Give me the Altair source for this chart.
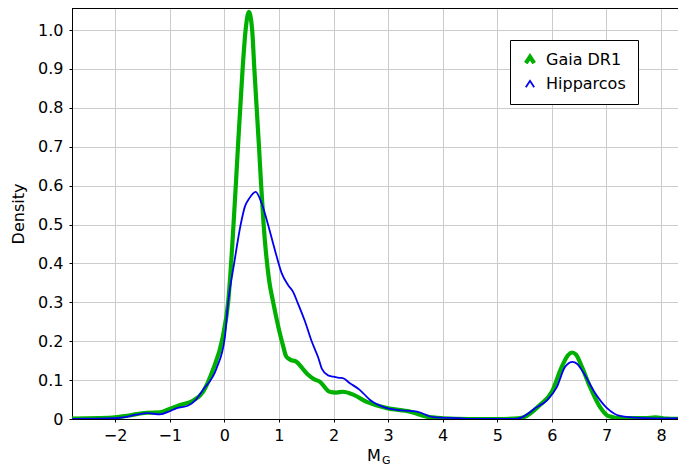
import altair as alt
import pandas as pd

series_names = ["Gaia DR1", "Hipparcos"]
series_colors = ["#00b000", "#0000f0"]
series_widths = [4.2, 1.8]

gaia_x = [-2.85, -2.3, -2.0, -1.75, -1.42, -1.18, -1.0, -0.81, -0.575, -0.39, -0.21, -0.03,
          0.07, 0.21, 0.25, 0.335, 0.39, 0.45, 0.51, 0.55, 0.635, 0.675, 0.72, 0.82, 0.895,
          1.08, 1.13, 1.2, 1.32, 1.42, 1.54, 1.65, 1.75, 1.93, 2.05, 2.17, 2.37, 2.61, 2.98,
          3.40, 3.71, 4.0, 4.5, 5.0, 5.3, 5.47, 5.78, 6.0, 6.18, 6.30, 6.37, 6.44, 6.55, 6.70,
          6.88, 7.03, 7.3, 7.7, 7.9, 8.1, 8.5]
gaia_y = [0.001, 0.002, 0.004, 0.009, 0.016, 0.017, 0.026, 0.036, 0.047, 0.07, 0.126, 0.21,
          0.30, 0.60, 0.70, 0.90, 1.00, 1.047, 1.00, 0.90, 0.70, 0.60, 0.50, 0.357, 0.30,
          0.186, 0.162, 0.153, 0.147, 0.132, 0.113, 0.102, 0.096, 0.070, 0.068, 0.070, 0.062,
          0.044, 0.028, 0.019, 0.006, 0.002, 0.0, 0.0, 0.001, 0.004, 0.036, 0.07, 0.134, 0.165,
          0.171, 0.166, 0.134, 0.082, 0.031, 0.008, 0.002, 0.002, 0.004, 0.001, 0.0]

hip_x = [-2.85, -2.0, -1.86, -1.62, -1.40, -1.18, -1.0, -0.87, -0.67, -0.52, -0.39, -0.14,
         0.01, 0.07, 0.18, 0.30, 0.377, 0.456, 0.573, 0.683, 0.80, 0.927, 1.05, 1.17, 1.26,
         1.34, 1.48, 1.6, 1.72, 1.79, 1.9, 1.99, 2.1, 2.17, 2.3, 2.48, 2.67, 2.98, 3.25, 3.53,
         3.82, 4.3, 4.6, 5.3, 5.41, 5.72, 5.91, 6.09, 6.24, 6.38, 6.46, 6.57, 6.79, 7.01, 7.25,
         7.6, 8.5]
hip_y = [0.0, 0.002, 0.004, 0.011, 0.015, 0.012, 0.02, 0.028, 0.034, 0.05, 0.075, 0.131,
         0.21, 0.30, 0.40, 0.50, 0.546, 0.567, 0.584, 0.555, 0.50, 0.434, 0.375, 0.344, 0.327,
         0.30, 0.25, 0.20, 0.158, 0.128, 0.112, 0.109, 0.106, 0.105, 0.092, 0.075, 0.049, 0.028,
         0.022, 0.019, 0.005, 0.002, 0.0, 0.0, 0.002, 0.03, 0.048, 0.082, 0.134, 0.147, 0.142,
         0.121, 0.067, 0.028, 0.008, 0.003, 0.001]

x_ticks = list(range(-2, 9))
y_ticks = [0, 0.1, 0.2, 0.3, 0.4, 0.5, 0.6, 0.7, 0.8, 0.9, 1.0]
x_title_main = ["M"]
x_title_sub = ["G"]

df = pd.concat([
    pd.DataFrame({"mg": gaia_x, "density": gaia_y, "series": series_names[0], "order": 1}),
    pd.DataFrame({"mg": hip_x, "density": hip_y, "series": series_names[1], "order": 0}),
])

FONT = "DejaVu Sans"
W, H = 606, 411
X_DOMAIN = [-2.79, 8.31]
Y_DOMAIN = [0, 1.0566]

legend_opts = dict(
    title=None, orient="none", legendX=438, legendY=32,
    strokeColor="black", fillColor="white", padding=12, cornerRadius=0,
    labelFont=FONT, labelFontSize=16, labelColor="black",
    symbolType="M-1,0.75L0,-0.75L1,0.75", symbolSize=70, symbolFillColor="transparent",
    rowPadding=4, labelOffset=8,
)

lines = alt.Chart(df).mark_line(interpolate="monotone", clip=True).encode(
    x=alt.X("mg:Q", scale=alt.Scale(domain=X_DOMAIN, nice=False, zero=False),
            axis=alt.Axis(values=x_ticks, title=None, grid=True, tickSize=3,
                          labelPadding=5, format="d")),
    y=alt.Y("density:Q", scale=alt.Scale(domain=Y_DOMAIN, nice=False),
            axis=alt.Axis(values=y_ticks, title="Density", grid=True, tickSize=3,
                          labelPadding=6, titlePadding=11,
                          labelExpr="datum.value == 0 ? '0' : format(datum.value, '.1f')")),
    color=alt.Color("series:N", scale=alt.Scale(domain=series_names, range=series_colors),
                    legend=alt.Legend(**legend_opts)),
    strokeWidth=alt.StrokeWidth("series:N", scale=alt.Scale(domain=series_names, range=series_widths),
                                legend=alt.Legend(**legend_opts)),
    order=alt.Order("order:Q"),
    detail="series:N",
)

top_rule = alt.Chart(df).mark_rule(color="black", strokeWidth=1).encode(
    x=alt.value(0), x2=alt.value(W), y=alt.value(0)
)

title_m = alt.Chart(pd.DataFrame({"t": x_title_main})).mark_text(
    font=FONT, fontSize=16, align="left", baseline="alphabetic", color="black"
).encode(text="t:N", x=alt.value(295), y=alt.value(453))
title_g = alt.Chart(pd.DataFrame({"t": x_title_sub})).mark_text(
    font=FONT, fontSize=11, align="left", baseline="alphabetic", color="black"
).encode(text="t:N", x=alt.value(310), y=alt.value(456))

chart = alt.layer(lines, top_rule, title_m, title_g).properties(
    width=W, height=H,
    autosize=alt.AutoSizeParams(type="none"),
    padding={"left": 64, "top": 0, "right": 0, "bottom": 47},
).configure_view(stroke=None).configure_axis(
    labelFont=FONT, labelFontSize=16, labelColor="black",
    titleFont=FONT, titleFontSize=16, titleColor="black", titleFontWeight="normal",
    domainColor="black", tickColor="black", gridColor="#cccccc", gridWidth=1,
)

chart.save("out.html", embed_options={"renderer": "svg", "actions": False})
